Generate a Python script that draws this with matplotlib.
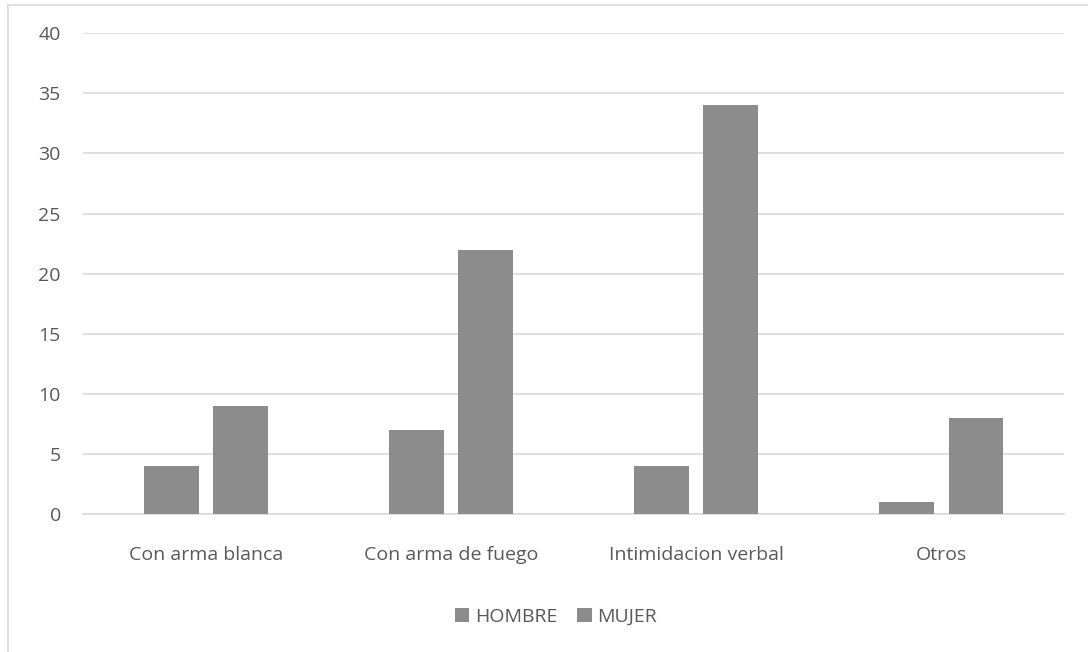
import numpy as np
import matplotlib.pyplot as plt
from matplotlib.lines import Line2D

categories = ['Con arma blanca', 'Con arma de fuego', 'Intimidacion verbal', 'Otros']
hombre = [4, 7, 4, 1]
mujer = [9, 22, 34, 8]
series_names = ['HOMBRE', 'MUJER']

bar_color = '#8c8c8c'
grid_color = '#d9d9d9'
text_color = '#595959'

plt.rcParams['font.family'] = ['Open Sans', 'DejaVu Sans']

fig = plt.figure(figsize=(10.88, 6.52), dpi=100)
ax = fig.add_axes([0.0763, 0.2117, 0.9017, 0.7373])

x = np.arange(len(categories))
w = 0.224
off = 0.141
ax.bar(x - off, hombre, width=w, color=bar_color, label=series_names[0], zorder=3)
ax.bar(x + off, mujer, width=w, color=bar_color, label=series_names[1], zorder=3)

ax.set_xlim(-0.5, len(categories) - 0.5)
ax.set_ylim(0, 40)
ax.set_yticks(range(0, 41, 5))
ax.set_xticks(x)
ax.set_xticklabels(categories)
ax.yaxis.grid(True, color=grid_color, linewidth=1.2, zorder=0)
ax.set_axisbelow(True)
for s in ['top', 'right', 'left']:
    ax.spines[s].set_visible(False)
ax.spines['bottom'].set_color(grid_color)
ax.spines['bottom'].set_linewidth(1.2)
ax.tick_params(axis='both', length=0, labelsize=14, colors=text_color)
ax.tick_params(axis='x', pad=23)
ax.tick_params(axis='y', pad=16)

leg = fig.legend(loc='center', bbox_to_anchor=(0.511, 0.054), ncol=2, frameon=False,
                 fontsize=14, handlelength=0.75, handleheight=0.75, handletextpad=0.3,
                 columnspacing=1.0)
for t in leg.get_texts():
    t.set_color(text_color)

# chart border (top and left edges visible)
fig.add_artist(Line2D([0.0078, 1.0], [0.9916, 0.9916], color=grid_color, linewidth=1.2))
fig.add_artist(Line2D([0.0078, 0.0078], [0.0, 0.9916], color=grid_color, linewidth=1.2))

fig.savefig('out.png', dpi=100)
